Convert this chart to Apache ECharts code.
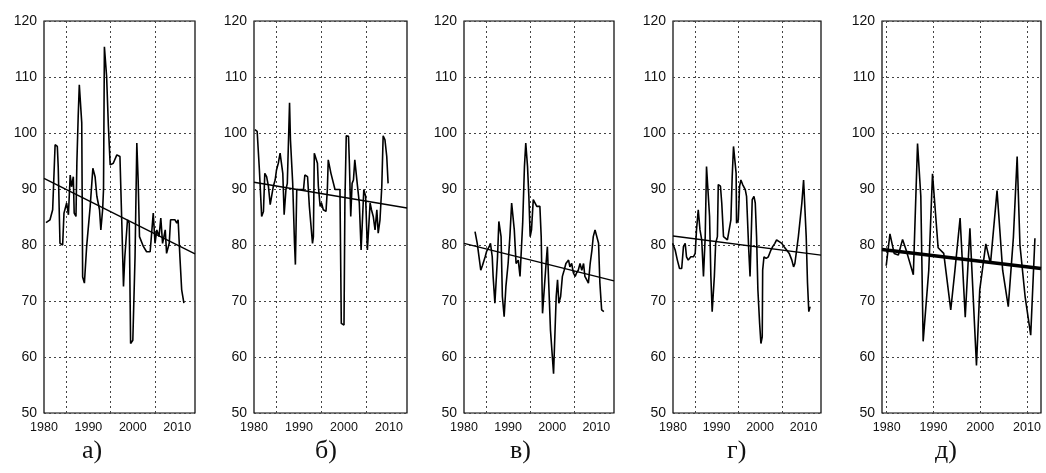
<!DOCTYPE html>
<html><head><meta charset="utf-8">
<script src="https://cdn.jsdelivr.net/npm/echarts@6/dist/echarts.min.js"></script>
<style>html,body{margin:0;padding:0;background:#fff}#c{width:1046px;height:473px}</style>
</head><body><div id="c"></div>
<script>
// ---------- DATA ----------
const panelLabels = ['а)', 'б)', 'в)', 'г)', 'д)'];
const xTickLabels = [1980, 1990, 2000, 2010];
const yTickValues = [50, 60, 70, 80, 90, 100, 110, 120];
const gridYearsShifted = [1985, 1995, 2005];
const gridYearsDecade = [1980, 1990, 2000, 2010];

const yearsA = [1980.45,1981.35,1981.95,1982.5,1983.0,1983.2,1983.6,1984.2,1984.5,1985.1,1985.5,1985.9,1986.2,1986.6,1986.8,1987.2,1987.4,1987.7,1987.95,1988.3,1988.5,1988.7,1989.1,1989.6,1990.4,1991.0,1991.5,1991.9,1992.5,1992.8,1993.2,1993.4,1993.6,1994.0,1994.1,1994.5,1994.9,1995.6,1996.4,1997.1,1997.5,1997.9,1998.2,1998.8,1999.2,1999.5,2000.0,2000.5,2000.9,2001.2,2001.5,2002.4,2003.1,2003.9,2004.6,2005.0,2005.4,2005.9,2006.3,2006.7,2007.3,2007.6,2008.2,2008.5,2009.5,2009.9,2010.2,2010.6,2011.0,2011.5];
const valuesA = [84.0,84.5,86.3,97.9,97.6,94.0,80.3,80.0,85.7,87.5,85.4,92.5,90.4,92.2,85.7,85.1,94.6,103.0,108.6,108.3,101.8,74.3,73.2,79.7,86.9,93.7,92.2,88.7,86.3,82.7,86.3,89.9,115.4,115.2,110.1,101.2,94.3,94.6,96.1,95.8,84.5,72.6,77.9,84.5,83.9,62.4,63.0,77.9,98.2,91.6,81.5,79.7,78.8,78.8,85.7,80.3,82.7,81.5,84.8,80.3,82.7,78.5,80.3,84.5,84.5,83.9,84.5,77.9,72.0,69.6];
const trendYearsA = [1980, 2014];
const trendValuesA = [91.9, 78.4];

const yearsB = [1980.2,1980.7,1981.2,1981.7,1982.1,1982.4,1982.8,1983.2,1983.6,1983.9,1984.3,1984.7,1985.0,1985.4,1985.8,1986.1,1986.4,1986.7,1987.1,1987.4,1987.9,1988.1,1988.6,1989.0,1989.2,1989.5,1991.0,1991.3,1991.9,1992.3,1992.7,1993.0,1993.2,1993.4,1993.8,1994.1,1994.3,1994.7,1995.0,1995.4,1996.0,1996.3,1996.5,1996.9,1997.1,1998.0,1999.1,1999.4,2000.0,2000.2,2000.5,2001.0,2001.2,2001.5,2001.8,2002.1,2002.4,2002.8,2003.0,2003.4,2003.8,2004.1,2004.4,2004.8,2005.2,2005.5,2005.8,2006.1,2006.5,2006.9,2007.3,2007.6,2008.0,2008.4,2008.7,2009.1,2009.5,2009.8];
const valuesB = [100.6,100.3,93.4,85.1,86.0,92.8,92.2,90.5,87.2,87.5,90.5,91.6,93.4,94.6,96.4,96.1,92.8,85.4,89.9,91.0,105.4,98.8,91.0,80.3,76.5,89.9,89.9,92.5,92.2,86.9,86.9,80.3,81.5,96.4,96.1,94.6,90.5,86.9,87.5,86.3,86.0,89.9,95.2,95.5,92.8,89.9,89.9,66.0,65.7,87.5,99.5,99.4,94.6,85.1,91.0,91.6,95.2,95.2,90.5,87.5,79.1,78.8,89.9,88.7,79.1,79.1,87.5,86.3,85.1,82.7,86.3,82.1,84.5,90.5,99.5,98.8,95.8,91.0];
const trendYearsB = [1980, 2014];
const trendValuesB = [91.2, 86.6];

const yearsC = [1982.5,1983.0,1983.5,1983.8,1984.2,1984.8,1985.1,1985.7,1986.0,1986.4,1986.6,1987.0,1987.4,1987.6,1987.9,1988.2,1988.4,1988.7,1989.1,1989.5,1990.0,1990.4,1990.8,1991.2,1991.4,1991.8,1992.3,1992.7,1992.9,1993.3,1993.7,1994.0,1994.2,1994.4,1994.7,1995.0,1995.3,1995.7,1996.1,1996.5,1996.9,1997.2,1997.5,1997.8,1998.2,1998.6,1998.9,1999.2,1999.6,2000.3,2000.5,2000.9,2001.2,2001.5,2001.9,2002.3,2002.7,2003.1,2003.7,2004.0,2004.4,2004.8,2005.2,2005.5,2005.9,2006.3,2006.7,2007.1,2007.4,2007.8,2008.2,2008.6,2009.0,2009.3,2009.7,2010.1,2010.5,2010.8,2011.2,2011.7];
const valuesC = [82.4,80.3,77.3,75.5,76.4,77.9,78.8,79.7,80.3,77.9,74.4,69.6,69.9,77.9,84.2,84.5,81.5,70.8,67.2,72.6,76.7,81.5,87.5,87.8,82.7,76.7,77.3,74.4,74.1,83.9,94.0,98.2,97.9,94.0,88.7,81.5,82.7,88.1,87.8,86.9,87.2,86.9,81.5,67.8,67.8,76.7,79.7,73.2,64.8,57.0,57.3,70.8,73.8,69.6,70.8,74.4,75.5,76.7,77.3,76.1,76.7,75.0,74.4,75.0,75.5,76.7,75.5,76.7,74.4,73.8,73.2,76.7,79.1,81.5,82.7,83.0,80.3,73.2,68.4,68.1];
const trendYearsC = [1980, 2014];
const trendValuesC = [80.3, 73.6];

const yearsD = [1979.9,1980.5,1981.0,1981.5,1982.0,1982.4,1982.8,1983.1,1983.5,1984.1,1984.7,1985.1,1985.4,1985.8,1986.2,1986.6,1987.0,1987.2,1987.4,1987.7,1988.1,1988.4,1988.7,1989.0,1989.3,1989.5,1989.8,1990.2,1990.4,1990.9,1991.2,1991.6,1991.9,1992.5,1992.9,1993.3,1993.6,1993.9,1994.3,1994.5,1994.6,1995.0,1995.3,1995.6,1996.0,1996.3,1996.6,1996.9,1997.4,1997.7,1997.9,1998.2,1998.6,1998.9,1999.2,1999.5,1999.9,2000.2,2000.5,2000.6,2000.9,2001.4,2001.9,2002.5,2002.9,2003.4,2003.8,2004.4,2005.0,2005.5,2006.1,2006.7,2007.3,2007.7,2008.0,2008.4,2008.8,2009.2,2009.6,2010.0,2010.3,2010.6,2010.9,2011.2,2011.5];
const valuesD = [80.3,79.1,77.3,75.8,75.8,79.7,80.3,77.9,77.3,77.9,77.9,78.5,82.7,86.3,82.7,80.9,74.4,74.1,81.5,94.0,94.3,85.1,74.4,68.1,68.4,74.4,80.3,81.5,90.8,90.5,87.5,81.5,81.2,80.9,80.9,84.5,92.2,97.6,97.9,92.8,83.9,84.5,90.5,91.6,90.8,90.5,89.9,88.7,79.1,74.4,79.7,88.1,88.7,87.5,81.5,72.0,66.0,62.4,63.6,75.5,77.9,77.6,77.9,79.1,79.7,80.3,80.9,80.6,80.3,79.7,79.1,78.5,77.3,76.1,76.7,79.1,81.5,84.5,87.5,91.6,91.3,81.5,73.2,68.1,69.0];
const trendYearsD = [1980, 2014];
const trendValuesD = [81.6, 78.2];

const yearsE = [1979.9,1980.7,1981.6,1982.5,1983.4,1984.2,1985.7,1986.6,1987.3,1987.8,1989.0,1989.8,1991.0,1992.2,1993.7,1994.6,1995.7,1996.8,1997.8,1999.2,1999.9,2001.2,2002.2,2003.6,2004.8,2006.0,2007.1,2007.9,2008.5,2009.6,2010.8,2011.7];
const valuesE = [76.3,82.0,78.5,78.2,81.0,79.0,74.7,98.1,88.7,62.8,75.5,92.7,79.5,78.5,68.4,75.5,84.8,67.1,83.0,58.5,72.0,80.2,76.7,89.7,75.5,69.0,81.4,95.8,80.0,70.8,63.9,81.2];
const trendYearsE = [1979, 2013];
const trendValuesE = [79.2, 75.8];

// ---------- LAYOUT / STYLE ----------
const panels = [
  { years: yearsA, values: valuesA, ty: trendYearsA, tv: trendValuesA, xMin: 1980, xMax: 2014, gridYears: gridYearsShifted, left: 44,  width: 151, labelX: 96,  trendW: 1.4 },
  { years: yearsB, values: valuesB, ty: trendYearsB, tv: trendValuesB, xMin: 1980, xMax: 2014, gridYears: gridYearsShifted, left: 254, width: 153, labelX: 329, trendW: 1.4 },
  { years: yearsC, values: valuesC, ty: trendYearsC, tv: trendValuesC, xMin: 1980, xMax: 2014, gridYears: gridYearsShifted, left: 464, width: 150, labelX: 524, trendW: 1.4 },
  { years: yearsD, values: valuesD, ty: trendYearsD, tv: trendValuesD, xMin: 1980, xMax: 2014, gridYears: gridYearsShifted, left: 673, width: 148, labelX: 741, trendW: 1.4 },
  { years: yearsE, values: valuesE, ty: trendYearsE, tv: trendValuesE, xMin: 1979, xMax: 2013, gridYears: gridYearsDecade,  left: 882, width: 159, labelX: 949, trendW: 3.5 }
];
const TOP = 21, HEIGHT = 392;
const gridLine = { type: [2, 3], color: '#444', width: 1 };

const zip = (a, b) => a.slice(0, Math.min(a.length, b.length)).map((x, i) => [x, b[i]]);

const grids = [], xAxes = [], yAxes = [], series = [], graphics = [];
panels.forEach((p, i) => {
  grids.push({ left: p.left, top: TOP, width: p.width, height: HEIGHT, show: true,
               borderColor: '#000', borderWidth: 1.2, backgroundColor: '#fff', containLabel: false, outerBoundsMode: 'none' });
  const cats = [];
  for (let y = p.xMin; y <= p.xMax; y++) cats.push(String(y));
  xAxes.push({ type: 'value', gridIndex: i, min: p.xMin, max: p.xMax, show: false, position: 'bottom' });
  xAxes.push({
    type: 'category', gridIndex: i, data: cats, boundaryGap: false, position: 'bottom',
    axisLine: { show: false }, axisTick: { show: false },
    axisLabel: { interval: (idx, v) => xTickLabels.includes(+v), fontSize: 12.5, color: '#111',
                 fontFamily: 'Liberation Sans', margin: 8 },
    splitLine: { show: true, interval: (idx, v) => p.gridYears.includes(+v), lineStyle: gridLine }
  });
  yAxes.push({
    type: 'value', gridIndex: i, min: yTickValues[0], max: yTickValues[yTickValues.length - 1], interval: 10,
    axisLine: { show: false }, axisTick: { show: false },
    axisLabel: { fontSize: 14, color: '#111', fontFamily: 'Liberation Sans', margin: 7 },
    splitLine: { show: true, lineStyle: gridLine }
  });
  series.push({
    type: 'line', xAxisIndex: 2 * i, yAxisIndex: i, data: zip(p.years, p.values),
    showSymbol: false, symbol: 'none', lineStyle: { color: '#000', width: 1.6 }, itemStyle: { color: '#000' },
    silent: true, z: 3
  });
  series.push({
    type: 'line', xAxisIndex: 2 * i, yAxisIndex: i, data: zip(p.ty, p.tv),
    showSymbol: false, symbol: 'none', lineStyle: { color: '#000', width: p.trendW }, itemStyle: { color: '#000' },
    silent: true, z: 4
  });
  graphics.push({ type: 'text', left: p.labelX - 14, top: 438,
    style: { text: panelLabels[i], font: '26px "Liberation Serif"', fill: '#111' } });
});

const chart = echarts.init(document.getElementById('c'), null, { renderer: 'canvas' });
chart.setOption({
  animation: false,
  backgroundColor: '#fff',
  grid: grids, xAxis: xAxes, yAxis: yAxes, series: series, graphic: graphics
});
</script></body></html>
